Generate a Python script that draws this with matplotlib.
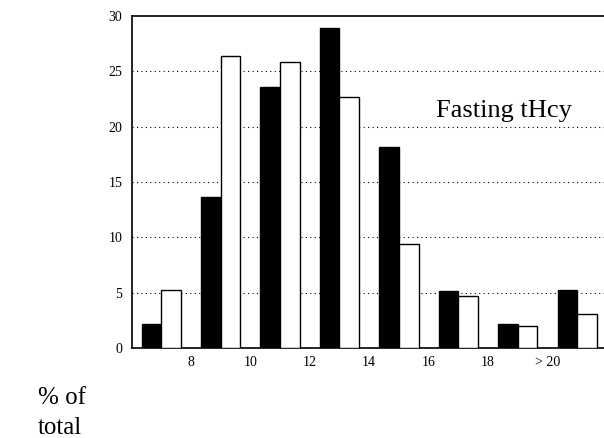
import numpy as np
import matplotlib
matplotlib.use("Agg")
import matplotlib.pyplot as plt

plt.rcParams['font.family'] = ['Liberation Serif', 'DejaVu Serif']

# bar heights (% of total), one pair per group
black_vals = [2.2, 13.6, 23.6, 28.9, 18.2, 5.15, 2.15, 5.25]
white_vals = [5.25, 26.4, 25.8, 22.7, 9.4, 4.7, 2.0, 3.1]
tick_labels = ['8', '10', '12', '14', '16', '18', '> 20']

fig = plt.figure(figsize=(6.04, 4.38), dpi=100)
ax = fig.add_axes([132 / 604, 90 / 438, 472 / 604, 332 / 438])

x = np.arange(len(black_vals))
w = 0.33
ax.bar(x - w / 2, black_vals, width=w, color='black', edgecolor='black', linewidth=1, zorder=3)
ax.bar(x + w / 2, white_vals, width=w, color='white', edgecolor='black', linewidth=1, zorder=3)

ax.set_xlim(-0.49, 7.45)
ax.set_ylim(0, 30)
ax.set_yticks([0, 5, 10, 15, 20, 25, 30])
ax.set_xticks(np.arange(len(tick_labels)) + 0.5)
ax.set_xticklabels(tick_labels)
ax.tick_params(axis='both', length=0, labelsize=10)
ax.tick_params(axis='y', pad=7)
ax.tick_params(axis='x', pad=6)

for yv in [5, 10, 15, 20, 25]:
    ax.axhline(yv, color='black', linestyle=(0, (1, 3)), linewidth=0.8, zorder=1)

ax.spines['right'].set_visible(False)
for s in ['left', 'top', 'bottom']:
    ax.spines[s].set_linewidth(1.2)

ax.text(0.645, 0.715, 'Fasting tHcy', transform=ax.transAxes, fontsize=19, va='center', ha='left')

fig.text(38 / 604, 1 - 398 / 438, '% of', fontsize=18, va='center', ha='left')
fig.text(38 / 604, 1 - 428 / 438, 'total', fontsize=18, va='center', ha='left')

fig.savefig('out.png', dpi=100)
